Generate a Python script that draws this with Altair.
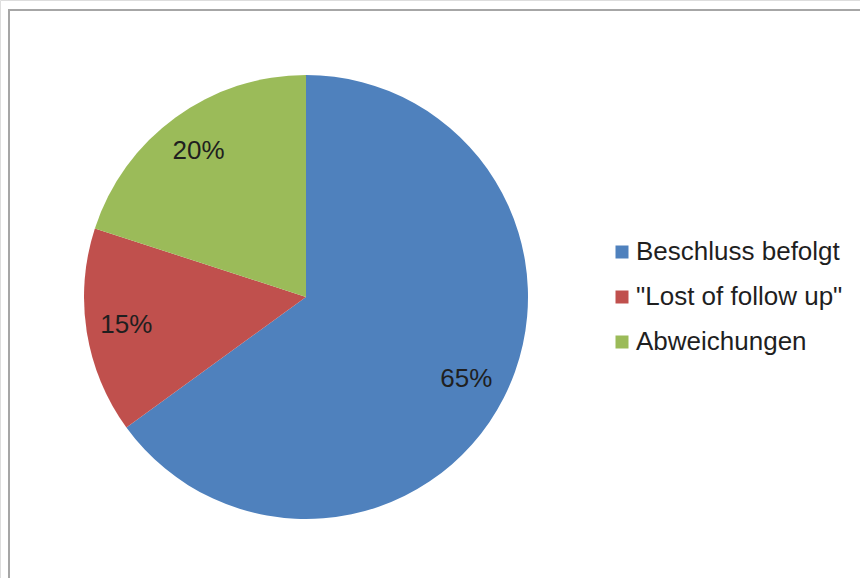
import altair as alt
import pandas as pd

categories = ["Beschluss befolgt", "\"Lost of follow up\"", "Abweichungen"]
values = [65, 15, 20]
labels = ["65%", "15%", "20%"]
colors = ["#4F81BD", "#C0504D", "#9BBB59"]

df = pd.DataFrame({"cat": categories, "val": values, "label": labels, "order": [0, 1, 2]})

FONT = "Liberation Sans"

color_scale = alt.Scale(domain=categories, range=colors)

base = alt.Chart(df).encode(
    theta=alt.Theta("val:Q", stack=True),
    order=alt.Order("order:Q"),
)

pie = base.mark_arc(outerRadius=222, stroke=None).encode(
    x=alt.value(306),
    y=alt.value(297),
    color=alt.Color(
        "cat:N",
        scale=color_scale,
        sort=categories,
        legend=alt.Legend(
            title=None,
            orient="none",
            legendX=609,
            legendY=239,
            symbolType="square",
            symbolSize=169,
            symbolStrokeWidth=0,
            labelFont=FONT,
            labelFontSize=26,
            labelColor="#1f1f1f",
            labelOffset=1,
            rowPadding=19,
            labelLimit=400,
        ),
    ),
)

text = base.mark_text(radius=181, font=FONT, fontSize=26, color="#1f1f1f").encode(
    x=alt.value(305),
    y=alt.value(297),
    text="label:N",
)

border = alt.Chart(pd.DataFrame({"a": [0]})).mark_rect(
    fill=None, stroke="#a6a6a6", strokeWidth=2
).encode(
    x=alt.value(9), x2=alt.value(900), y=alt.value(10), y2=alt.value(620)
)

chart = alt.layer(border, pie, text).properties(
    width=860, height=578, padding=0, autosize=alt.AutoSizeParams(type="none")
).configure_view(stroke=None).configure(background="white")

chart.save("out.html", embed_options={"renderer": "svg", "actions": False})
